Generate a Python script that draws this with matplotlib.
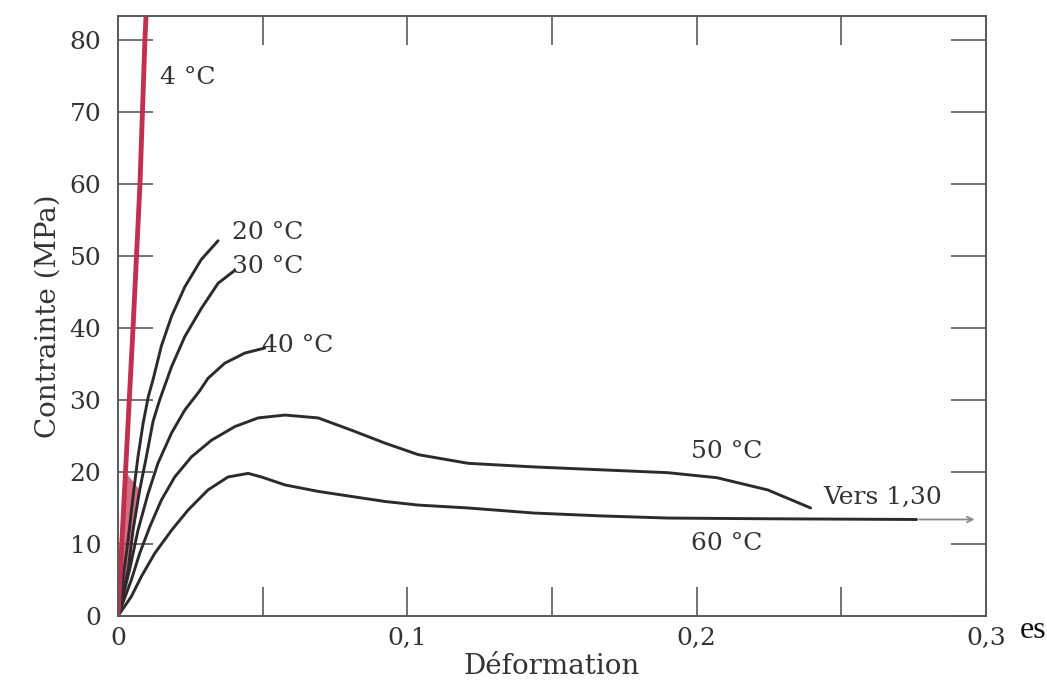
import numpy as np
import matplotlib
matplotlib.use('Agg')
import matplotlib.pyplot as plt

# strain (-) / stress (MPa)
strain_4 = [0, 0.0026, 0.0052, 0.0076, 0.0093, 0.0099]
stress_4 = [0, 20, 40, 60, 80, 85]

strain_20 = [0, 0.0035, 0.0052, 0.0069, 0.0087, 0.0105, 0.0121, 0.015, 0.0185,
             0.0231, 0.0288, 0.0346]
stress_20 = [0, 10.6, 16.6, 22.1, 26.8, 30.5, 32.8, 37.5, 41.6, 45.7, 49.5, 52.1]

strain_30 = [0, 0.0035, 0.0052, 0.0075, 0.0098, 0.0121, 0.0144, 0.0185, 0.0231,
             0.0288, 0.0346, 0.0404]
stress_30 = [0, 6.4, 11.9, 17.5, 22.1, 27, 30.0, 34.6, 38.8, 42.7, 46.2, 48.0]

strain_40 = [0, 0.004, 0.0069, 0.0104, 0.0138, 0.0185, 0.0231, 0.0283, 0.0311,
             0.0369, 0.0438, 0.0507]
stress_40 = [0, 6.4, 11.9, 17.0, 21.2, 25.4, 28.6, 31.3, 33.0, 35.1, 36.5, 37.2]

strain_50 = [0, 0.0046, 0.0075, 0.011, 0.015, 0.0196, 0.0254, 0.0323, 0.0404, 0.0484,
             0.0577, 0.0692, 0.0807, 0.0923, 0.1038, 0.121, 0.1436, 0.1668, 0.19,
             0.207, 0.2246, 0.2394]
stress_50 = [0, 5.0, 8.7, 12.4, 16.1, 19.3, 22.1, 24.4, 26.3, 27.5,
             27.9, 27.5, 25.8, 24.0, 22.4, 21.2, 20.7, 20.3, 19.9,
             19.2, 17.5, 15.0]

strain_60 = [0, 0.0046, 0.0081, 0.0127, 0.0185, 0.0242, 0.0311, 0.038, 0.045, 0.0496,
             0.0577, 0.0692, 0.0807, 0.0923, 0.1038, 0.121, 0.1436, 0.1668, 0.19,
             0.2246, 0.276]
stress_60 = [0, 2.7, 5.5, 8.7, 11.9, 14.7, 17.5, 19.3, 19.8, 19.3,
             18.2, 17.3, 16.6, 15.9, 15.4, 15.0, 14.3, 13.9, 13.6,
             13.5, 13.4]
arrow_end = 0.297

labels = ['4 °C', '20 °C', '30 °C', '40 °C', '50 °C', '60 °C', 'Vers 1,30']
label_x = [0.0145, 0.0394, 0.0394, 0.0498, 0.198, 0.198, 0.2436]
label_y = [74.7, 53.2, 48.5, 37.5, 22.8, 10.1, 16.5]

x_ticks = [0, 0.1, 0.2, 0.3]
x_tick_labels = ['0', '0,1', '0,2', '0,3']
x_minor = [0.05, 0.15, 0.25]
y_ticks = [0, 10, 20, 30, 40, 50, 60, 70, 80]

plt.rcParams['font.family'] = ['DejaVu Serif']

fig = plt.figure(figsize=(10.47, 6.93), dpi=100)
ax = fig.add_axes([0.1127, 0.1111, 0.829, 0.8658])

red = '#c2304f'
dark = '#2e2a2c'

# reddish wedge near the origin, between the 4 °C and 30 °C curves
s4 = np.array(stress_4); e4 = np.array(strain_4)
s30 = np.array(stress_30); e30 = np.array(strain_30)
m4 = s4 <= 20
m30 = s30 <= 20
ax.fill(np.concatenate([e4[m4], e30[m30][::-1]]),
        np.concatenate([s4[m4], s30[m30][::-1]]),
        color=red, alpha=0.7, lw=0)

for e, s in [(strain_20, stress_20), (strain_30, stress_30), (strain_40, stress_40),
             (strain_50, stress_50), (strain_60, stress_60)]:
    ax.plot(e, s, color=dark, lw=2.1, solid_capstyle='round', solid_joinstyle='round')

ax.plot(strain_4, stress_4, color=red, lw=3.5)

ax.annotate('', xy=(arrow_end, stress_60[-1]), xytext=(strain_60[-1], stress_60[-1]),
            arrowprops=dict(arrowstyle='->', color='#8a8a8a', lw=1.3))

for t, x, y in zip(labels, label_x, label_y):
    ax.text(x, y, t, fontsize=18, color='#333333', ha='left', va='center')

ax.set_xlim(0, 0.3)
ax.set_ylim(0, 83.3)
ax.set_xticks(x_ticks)
ax.set_xticklabels(x_tick_labels)
ax.set_xticks(x_minor, minor=True)
ax.set_yticks(y_ticks)

for sp in ax.spines.values():
    sp.set_color('#5a5a5a')
    sp.set_linewidth(1.4)

ax.tick_params(axis='x', which='both', direction='in', length=21, width=1.2,
               color='#5a5a5a', top=True, labelsize=18, labelcolor='#333333', pad=8)
ax.tick_params(axis='y', which='both', direction='in', length=25, width=1.2,
               color='#5a5a5a', right=True, labelsize=18, labelcolor='#333333', pad=12)

ax.set_xlabel('Déformation', fontsize=20, color='#333333', labelpad=2)
ax.set_ylabel('Contrainte (MPa)', fontsize=20, color='#333333', labelpad=6)

fig.text(1033 / 1047, 1 - 630 / 693, 'es', fontsize=23, family='Liberation Serif',
         color='#111111', ha='center', va='center')

fig.savefig('out.png', dpi=100)
